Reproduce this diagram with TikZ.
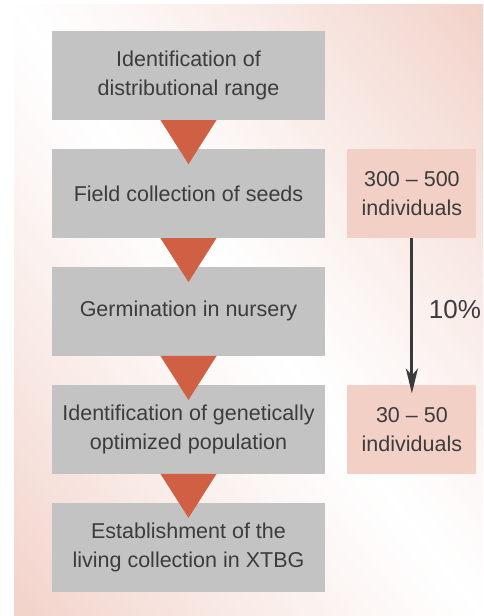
\documentclass[tikz,border=0pt]{standalone}
\usepackage{fontspec}
\setmainfont{Liberation Sans}
\usetikzlibrary{arrows.meta, positioning, calc}
\definecolor{boxgray}{RGB}{195,195,195}
\definecolor{steporange}{RGB}{208,96,68}
\definecolor{notepink}{RGB}{242,208,198}
\definecolor{bgpink}{RGB}{242,210,201}
\definecolor{textdark}{RGB}{60,60,60}
\definecolor{arrowdark}{RGB}{58,58,58}

\begin{document}
\begin{tikzpicture}[x=1pt, y=1pt, >=Stealth,
    stepbox/.style={fill=boxgray, minimum width=273pt, minimum height=89pt, inner sep=0pt,
        align=center, text=textdark, font=\fontsize{21.5}{29}\selectfont},
    notebox/.style={fill=notepink, minimum width=129pt, minimum height=89pt, inner sep=0pt,
        align=center, text=textdark, font=\fontsize{21.5}{29}\selectfont},
    node distance=28.5pt]

    % Background, white along the diagonal and pink towards two corners
    \useasboundingbox (0,0) rectangle (483,616);
    \begin{scope}
        \clip (14,0) rectangle (483,611);
        \begin{scope}[shift={(248.5,305.5)}, rotate=-52.5]
            \foreach \d in {-372,-366,...,372} {
                \pgfmathsetmacro\mix{100*(abs(\d)/372)^1.15}
                \fill[bgpink!\mix!white] (-450,\d-3.5) rectangle (450,\d+3.5);
            }
        \end{scope}
    \end{scope}

    % Steps
    \node[stepbox] (range) at (188.5,540.5) {Identification of\\distributional range};
    \node[stepbox, below=of range] (field) {Field collection of seeds};
    \node[stepbox, below=of field] (nursery) {Germination in nursery};
    \node[stepbox, below=of nursery] (optim) {Identification of genetically\\optimized population};
    \node[stepbox, below=of optim] (living) {Establishment of the\\living collection in XTBG};

    % Triangles between the steps
    \foreach \a in {range, field, nursery, optim}
        \fill[steporange] ($(\a.south)+(-28,0)$) -- ($(\a.south)+(28,0)$)
            -- ($(\a.south)+(0,-44)$) -- cycle;

    % Number of individuals
    \node[notebox, right=22pt of field] (many) {300 – 500\\individuals};
    \node[notebox, right=22pt of optim] (few) {30 – 50\\individuals};

    \draw[-{Stealth[length=25pt, width=12pt, inset=7pt]}, line width=3pt, arrowdark, shorten >=-9pt]
        (many) -- (few)
        node[midway, right=15.5pt, inner sep=0pt, yshift=1.5pt, text=textdark,
            font=\fontsize{26}{30}\selectfont] (share) {10\%};
\end{tikzpicture}
\end{document}
